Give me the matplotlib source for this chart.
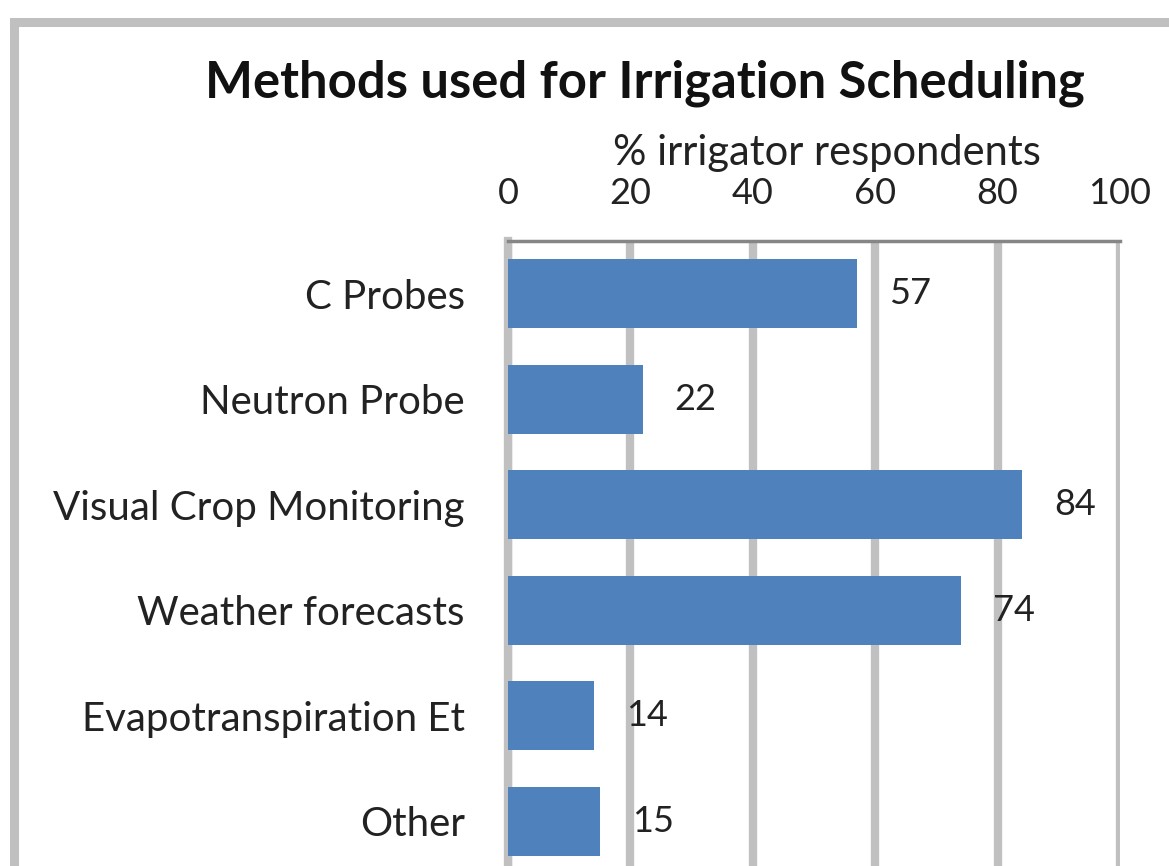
import matplotlib.pyplot as plt
from matplotlib.lines import Line2D

# data
methods = ['C Probes', 'Neutron Probe', 'Visual Crop Monitoring',
           'Weather forecasts', 'Evapotranspiration Et', 'Other']
percent = [57, 22, 84, 74, 14, 15]
ticks = [0, 20, 40, 60, 80, 100]

plt.rcParams['font.family'] = ['Lato', 'DejaVu Sans']

fig = plt.figure(figsize=(11.69, 8.66), dpi=100)
W, H = 1169, 866

# axes placed in pixel terms, bottom runs off the picture like the crop
left, right, top, bottom = 508, 1120, 241, 874
ax = fig.add_axes([left / W, 1 - bottom / H, (right - left) / W, (bottom - top) / H])

y = list(range(len(methods)))
ax.barh(y, percent, height=0.65, color='#4F81BD', zorder=3)
ax.set_ylim(len(methods) - 0.5, -0.5)
ax.set_xlim(0, 100)
ax.set_xticks(ticks)
ax.xaxis.tick_top()
ax.tick_params(axis='x', length=0, pad=22, labelsize=26, labelcolor='#222222')
ax.set_yticks(y)
ax.set_yticklabels(methods)
ax.tick_params(axis='y', length=0, pad=31, labelsize=29, labelcolor='#222222')
ax.grid(axis='x', color='#C0C0C0', linewidth=6, zorder=1)

for s in ['right', 'bottom']:
    ax.spines[s].set_visible(False)
ax.spines['left'].set_color('#C0C0C0')
ax.spines['left'].set_linewidth(6)
ax.spines['top'].set_color('#868686')
ax.spines['top'].set_linewidth(2.5)
ax.spines['top'].set_zorder(4)

for i, v in enumerate(percent):
    ax.annotate(str(v), (v, i), xytext=(53 * 0.72, 0), textcoords='offset points',
                ha='center', va='center', fontsize=26, color='#222222')

fig.text(645 / W, 1 - 83 / H, 'Methods used for Irrigation Scheduling',
         ha='center', va='center', fontsize=36.5, fontweight='bold', color='#111111')
fig.text(827 / W, 1 - 153 / H, '% irrigator respondents',
         ha='center', va='center', fontsize=30, color='#222222')

# chart area border, cut at right and bottom
fig.add_artist(Line2D([14 / W, 14 / W], [1 - 22 / H, 0], color='#C0C0C0', linewidth=6.5))
fig.add_artist(Line2D([14 / W, 1], [1 - 22 / H, 1 - 22 / H], color='#C0C0C0', linewidth=6.5))

fig.savefig('out.png', dpi=100)
